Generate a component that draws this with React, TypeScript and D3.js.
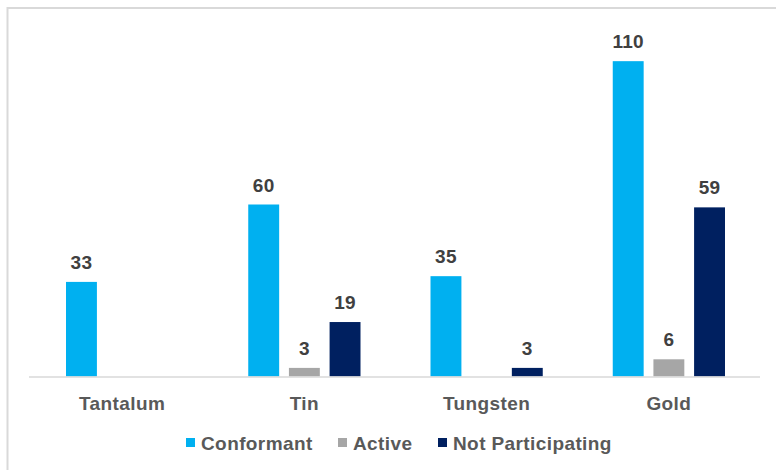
import { useEffect, useRef } from "react";
import * as d3 from "d3";

const categories = ["Tantalum", "Tin", "Tungsten", "Gold"];
const seriesNames = ["Conformant", "Active", "Not Participating"];
const conformant = [33, 60, 35, 110];
const active = [0, 3, 0, 6];
const notParticipating = [0, 19, 3, 59];
const colors = ["#00B0F0", "#A6A6A6", "#002060"];

export default function App() {
  const svgRef = useRef<SVGSVGElement>(null);

  useEffect(() => {
    if (!svgRef.current) return;
    const width = 776;
    const height = 470;
    const svg = d3.select(svgRef.current);
    svg.selectAll("*").remove();

    const font = "'Liberation Sans', Arial, sans-serif";

    // outer frame (only left/top visible in the source)
    svg
      .append("rect")
      .attr("x", 7.5)
      .attr("y", 8)
      .attr("width", width)
      .attr("height", height)
      .attr("fill", "#fff")
      .attr("stroke", "#d9d9d9")
      .attr("stroke-width", 2);

    const margin = { left: 31, right: 16, top: 32.5, bottom: 93.5 };
    const innerW = width - margin.left - margin.right;
    const innerH = height - margin.top - margin.bottom;

    const g = svg
      .append("g")
      .attr("transform", `translate(${margin.left},${margin.top})`);

    const x0 = d3
      .scaleBand<string>()
      .domain(categories)
      .range([0, innerW])
      .paddingInner(0)
      .paddingOuter(0);

    const x1 = d3
      .scaleBand<string>()
      .domain(seriesNames)
      .range([35, x0.bandwidth() - 35])
      .paddingInner(0.24);

    const y = d3.scaleLinear().domain([0, 120]).range([innerH, 0]);

    const values = [conformant, active, notParticipating];

    categories.forEach((cat, ci) => {
      const grp = g.append("g").attr("transform", `translate(${x0(cat)},0)`);
      seriesNames.forEach((s, si) => {
        const v = values[si][ci];
        if (v <= 0) return;
        grp
          .append("rect")
          .attr("x", x1(s)!)
          .attr("y", y(v))
          .attr("width", x1.bandwidth())
          .attr("height", innerH - y(v))
          .attr("fill", colors[si]);
        grp
          .append("text")
          .attr("x", x1(s)! + x1.bandwidth() / 2)
          .attr("y", y(v) - 13)
          .attr("text-anchor", "middle")
          .attr("font-family", font)
          .attr("font-weight", "bold")
          .attr("font-size", 19)
          .attr("letter-spacing", 0.3)
          .attr("fill", "#404040")
          .text(v);
      });
    });

    // x axis line
    g.append("line")
      .attr("x1", -2)
      .attr("x2", innerW)
      .attr("y1", innerH + 0.5)
      .attr("y2", innerH + 0.5)
      .attr("stroke", "#d9d9d9")
      .attr("stroke-width", 1.5);

    // category labels
    g.selectAll(".cat")
      .data(categories)
      .enter()
      .append("text")
      .attr("x", (d) => x0(d)! + x0.bandwidth() / 2)
      .attr("y", innerH + 33.5)
      .attr("text-anchor", "middle")
      .attr("font-family", font)
      .attr("font-weight", "bold")
      .attr("font-size", 19)
      .attr("letter-spacing", 0.4)
      .attr("fill", "#595959")
      .text((d) => d);

    // legend
    const legendX = [186, 338, 438];
    const legend = svg.append("g").attr("transform", `translate(0,443)`);
    seriesNames.forEach((s, i) => {
      legend
        .append("rect")
        .attr("x", legendX[i])
        .attr("y", -5)
        .attr("width", 9)
        .attr("height", 9)
        .attr("fill", colors[i]);
      legend
        .append("text")
        .attr("x", legendX[i] + 15)
        .attr("y", 7)
        .attr("font-family", font)
        .attr("font-weight", "bold")
        .attr("font-size", 19)
        .attr("letter-spacing", 0.4)
        .attr("fill", "#595959")
        .text(s);
    });
  }, []);

  return (
    <svg
      ref={svgRef}
      width={776}
      height={470}
      style={{ position: "absolute", left: 0, top: 0 }}
    />
  );
}
